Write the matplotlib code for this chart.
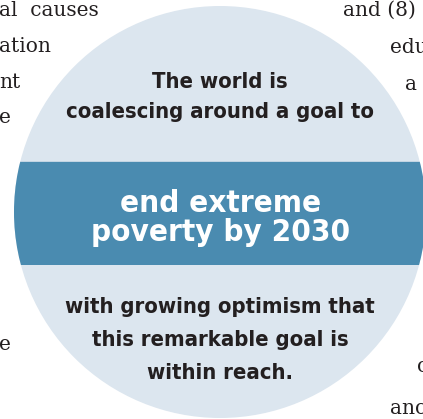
import matplotlib.pyplot as plt
from matplotlib.patches import Circle, Rectangle

# --- content -------------------------------------------------------------
top_lines = ["The world is", "coalescing around a goal to"]
band_lines = ["end extreme", "poverty by 2030"]
bottom_lines = ["with growing optimism that", "this remarkable goal is", "within reach."]

# fragments of the surrounding article text (left column, right column)
left_frags = ["al  causes", "ation", "nt", "e", "e"]
left_base = [16, 52, 88, 123, 350]
right_frags = ["and (8)", "edu", "a", "c", "anc"]
right_x = [343, 390, 405, 417, 390]
right_base = [16, 53, 90, 372, 414]

light = "#dce6ef"
band_col = "#4a8bb0"
ink = "#231f20"
serif = ["DejaVu Serif"]

W, H = 423, 419
fig = plt.figure(figsize=(W / 100, H / 100), dpi=100)
ax = fig.add_axes([0, 0, 1, 1])
ax.set_xlim(0, W)
ax.set_ylim(H, 0)
ax.axis("off")

cx, cy, r = 220, 212, 206
circ = Circle((cx, cy), r, facecolor=light, edgecolor="none", zorder=1)
ax.add_patch(circ)
band = Rectangle((0, 162), W, 103, facecolor=band_col, edgecolor="none", zorder=2)
ax.add_patch(band)
band.set_clip_path(circ)
edge = Rectangle((0, 161), W, 1.2, facecolor="#c3d5e3", edgecolor="none", zorder=2)
ax.add_patch(edge)
edge.set_clip_path(circ)

# circle text
cond = dict(family="DejaVu Sans", fontstretch="condensed", weight="bold",
            ha="center", va="baseline", zorder=3)
for i, s in enumerate(top_lines):
    ax.text(220, 88 + i * 30, s, fontsize=15.8, color=ink, **cond)
for i, s in enumerate(band_lines):
    ax.text(221, 212 + i * 29, s, fontsize=22.5, color="white", **cond)
for i, s in enumerate(bottom_lines):
    ax.text(220, 313 + i * 33, s, fontsize=15.8, color=ink, **cond)

# article text around the graphic
for s, y in zip(left_frags, left_base):
    ax.text(-1, y, s, ha="left", va="baseline", fontsize=14.5, family=serif,
            color=ink, zorder=0)
for s, x, y in zip(right_frags, right_x, right_base):
    ax.text(x, y, s, ha="left", va="baseline", fontsize=14.5, family=serif,
            color=ink, zorder=0)

fig.savefig("out.png", dpi=100, facecolor="white")
